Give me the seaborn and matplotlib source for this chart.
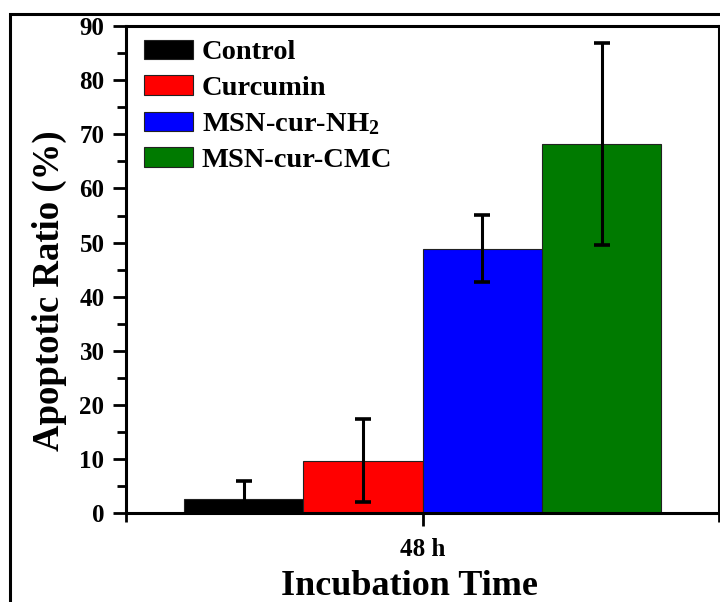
import matplotlib
matplotlib.use("Agg")
import matplotlib.pyplot as plt
from matplotlib.patches import Rectangle
from matplotlib.ticker import MultipleLocator, FixedLocator
import numpy as np
import pandas as pd
import seaborn as sns

# Data
time_points = ["48 h"]
groups = ["Control", "Curcumin", r"MSN-cur-NH$_\mathbf{2}$", "MSN-cur-CMC"]
ratio_mean = [2.6, 9.7, 48.9, 68.2]
ratio_err = [3.4, 7.7, 6.2, 18.7]
bar_colors = ["#000000", "#ff0000", "#0000ff", "#007a00"]

sns.set_style("ticks")
plt.rcParams["font.family"] = ["Liberation Serif", "DejaVu Serif"]
plt.rcParams["font.weight"] = "bold"
plt.rcParams["mathtext.fontset"] = "custom"
plt.rcParams["mathtext.rm"] = "Liberation Serif:bold"
plt.rcParams["mathtext.bf"] = "Liberation Serif:bold"
plt.rcParams["mathtext.it"] = "Liberation Serif:bold"
for key in ["text.color", "axes.labelcolor", "xtick.color", "ytick.color",
            "xtick.labelcolor", "ytick.labelcolor", "axes.edgecolor"]:
    plt.rcParams[key] = "black"

df = pd.DataFrame({
    "time": time_points * len(groups),
    "group": groups,
    "ratio": ratio_mean,
})

fig = plt.figure(figsize=(7.2, 6.02), dpi=100)
ax = fig.add_axes([126 / 720, 1 - 513.3 / 602, (719.3 - 126) / 720, (513.3 - 26) / 602])

sns.barplot(data=df, x="time", y="ratio", hue="group", hue_order=groups,
            palette=bar_colors, errorbar=None, width=0.805, ax=ax,
            edgecolor="#222222", linewidth=0.8, saturation=1)

# Error bars at the centres of the drawn bars
for patch, err in zip(ax.patches[:len(groups)], ratio_err):
    cx = patch.get_x() + patch.get_width() / 2
    ax.errorbar(cx, patch.get_height(), yerr=err, fmt="none", ecolor="black",
                elinewidth=2.2, capsize=6, capthick=2.6, zorder=5)

ax.set_xlim(-0.5, 0.5)
ax.set_ylim(0, 90)
ax.yaxis.set_major_locator(MultipleLocator(10))
ax.yaxis.set_minor_locator(MultipleLocator(5))
ax.xaxis.set_minor_locator(FixedLocator([-0.5, 0.5]))

for side in ["left", "right", "top", "bottom"]:
    ax.spines[side].set_visible(True)
    ax.spines[side].set_linewidth(2.2)
    ax.spines[side].set_color("black")

ax.tick_params(axis="both", which="major", direction="out", length=9.5, width=2,
               labelsize=18, top=False, right=False, colors="black")
ax.tick_params(axis="y", which="major", pad=6)
ax.tick_params(axis="x", which="major", pad=8)
ax.tick_params(axis="both", which="minor", direction="out", length=6.5, width=2,
               top=False, right=False, colors="black")
for lab in ax.get_xticklabels() + ax.get_yticklabels():
    lab.set_fontweight("bold")

ax.set_xlabel("Incubation Time", fontsize=26, fontweight="bold", color="black")
ax.set_ylabel("Apoptotic Ratio (%)", fontsize=26.5, fontweight="bold", color="black")
ax.xaxis.set_label_coords(0.477, -0.116)
ax.yaxis.set_label_coords(-0.100, 0.456)

leg = ax.legend(loc="upper left", bbox_to_anchor=(-0.004, 1.013), frameon=False,
                fontsize=20.5, handlelength=1.75, handleheight=0.66,
                handletextpad=0.3, labelspacing=0.36, borderaxespad=0.3)
for t in leg.get_texts():
    t.set_fontweight("bold")
    t.set_color("black")

# Outer frame around the figure
fig.add_artist(Rectangle((10 / 720, -0.1), 1.2, 1 - 14 / 602 + 0.1,
                         transform=fig.transFigure, fill=False,
                         edgecolor="black", linewidth=2.2, clip_on=False))

fig.savefig("out.png", dpi=100)
